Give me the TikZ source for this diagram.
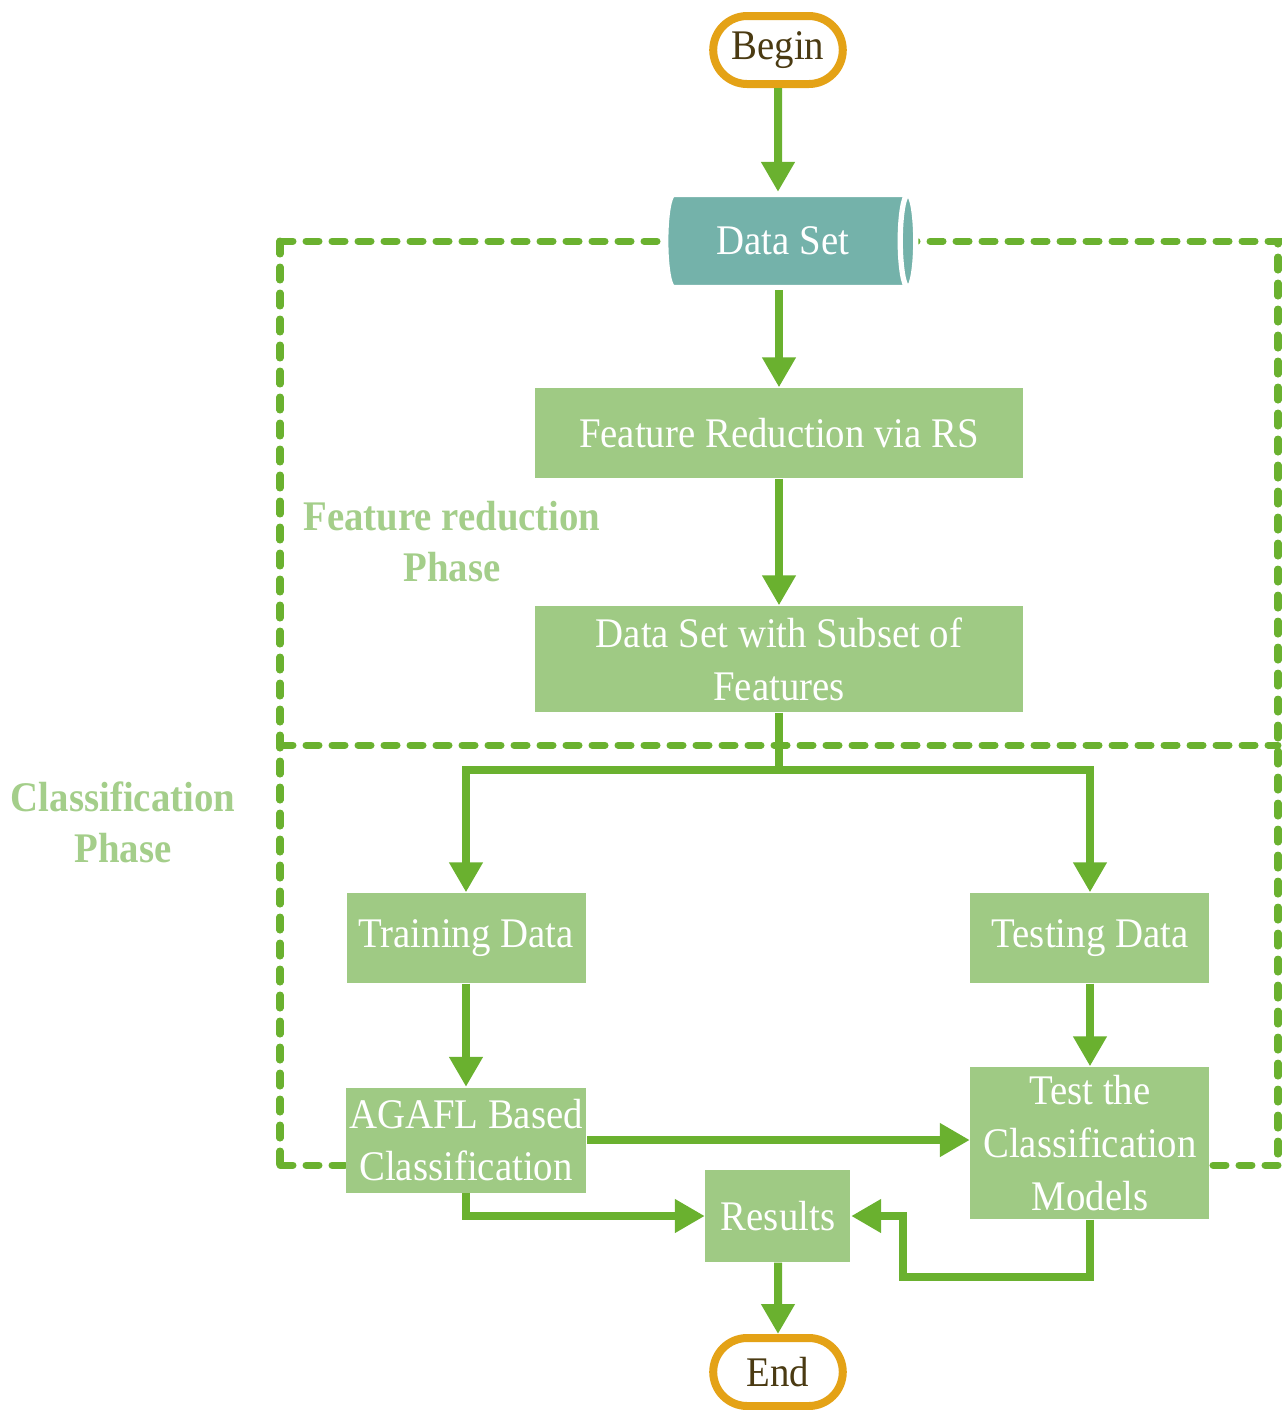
\documentclass[tikz,border=0pt]{standalone}
\usepackage{fontspec}
\setmainfont[FakeStretch=0.92]{Liberation Serif}
\usetikzlibrary{arrows.meta,shapes.geometric,shapes.misc}

\definecolor{boxgreen}{HTML}{9FCA84}
\definecolor{flowgreen}{HTML}{6AB12F}
\definecolor{phasegreen}{HTML}{A4CE8A}
\definecolor{termorange}{HTML}{E4A216}
\definecolor{termtext}{HTML}{4A3A12}
\definecolor{dbteal}{HTML}{74B2AA}

\begin{document}
\begin{tikzpicture}[
    font=\fontsize{12}{15}\selectfont,
    stepbox/.style={rectangle, fill=boxgreen, text=white, align=center, inner sep=1pt},
    term/.style={rounded rectangle, draw=termorange, line width=0.08cm, fill=white,
                 text=termtext, minimum width=1.53cm, minimum height=0.68cm},
    flow/.style={draw=flowgreen, line width=0.08cm, -{Triangle[width=0.32cm,length=0.3cm]}},
    phase/.style={draw=flowgreen, line width=0.07cm, line cap=round, dash pattern=on 0.13cm off 0.13cm},
    phaselabel/.style={text=phasegreen, font=\fontsize{12}{14.5}\selectfont\bfseries, align=center}
]
\useasboundingbox (0,0) rectangle (12.85,-14.1);

% Phase frames
\coordinate (tl) at (2.80,-2.41);
\coordinate (tr) at (12.78,-2.41);
\coordinate (ml) at (2.80,-7.45);
\coordinate (mr) at (12.78,-7.45);
\coordinate (bl) at (2.80,-11.65);
\coordinate (br) at (12.78,-11.65);
\draw[phase] (tl) -- (tr) -- (br);
\draw[phase] (tl) -- (bl);
\draw[phase] (ml) -- (mr);
\draw[phase] (bl) -- ++(0.67,0);
\draw[phase] (br) -- ++(-0.68,0);

% Nodes
\node[term] (start) at (7.78,-0.50) {Begin};
\node[cylinder, shape border rotate=0, aspect=0.3, cylinder uses custom fill,
      cylinder body fill=dbteal, cylinder end fill=dbteal, draw=white, line width=1.5pt,
      text=white, minimum height=2.5cm, minimum width=0.93cm] (data) at (7.83,-2.41) {Data Set};
\node[stepbox, minimum width=4.88cm, minimum height=0.90cm] (fr) at (7.79,-4.33) {Feature Reduction via RS};
\node[stepbox, minimum width=4.88cm, minimum height=1.06cm] (dss) at (7.79,-6.59) {Data Set with Subset of\\Features};
\node[stepbox, minimum width=2.39cm, minimum height=0.90cm] (train) at (4.66,-9.38) {Training Data};
\node[stepbox, minimum width=2.39cm, minimum height=0.90cm] (testd) at (10.90,-9.38) {Testing Data};
\node[stepbox, minimum width=2.39cm, minimum height=1.05cm] (agafl) at (4.66,-11.40) {AGAFL Based\\Classification};
\node[stepbox, minimum width=2.39cm, minimum height=1.52cm] (tcm) at (10.90,-11.43) {Test the\\Classification\\Models};
\node[stepbox, minimum width=1.45cm, minimum height=0.92cm] (res) at (7.78,-12.16) {Results};
\node[term] (stop) at (7.78,-13.72) {End};

\node[phaselabel] (frlabel) at (4.52,-5.42) {Feature reduction\\Phase};
\node[phaselabel] (clabel) at (1.23,-8.22) {Classification\\Phase};

% Edges
\coordinate (split) at (7.79,-7.70);
\coordinate (back) at (9.03,-12.77);
\draw[flow] (start) -- (start |- data.north);
\draw[flow] (data.south -| fr.north) -- (fr);
\draw[flow] (fr) -- (dss);
\draw[draw=flowgreen, line width=0.08cm] (dss.south) -- (split);
\draw[flow] (split) -| (train.north);
\draw[flow] (split) -| (testd.north);
\draw[flow] (train) -- (agafl);
\draw[flow] (testd) -- (tcm);
\draw[flow] (agafl.east) -- (agafl.east -| tcm.west);
\draw[flow] (agafl.south) |- (res.west);
\draw[flow] (tcm.south) |- (back) |- (res.east);
\draw[flow] (res) -- (stop);

\end{tikzpicture}
\end{document}
